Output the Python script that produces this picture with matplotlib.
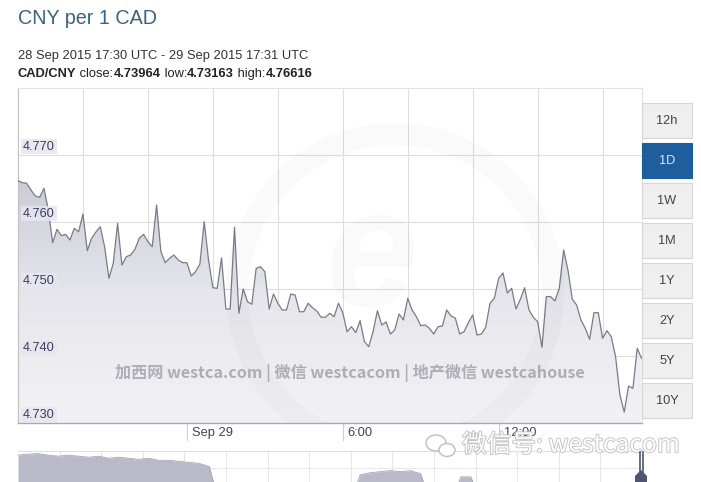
import numpy as np
import matplotlib
matplotlib.use("Agg")
import matplotlib.pyplot as plt
from matplotlib.patches import Rectangle, Circle, Ellipse, Polygon
from matplotlib.colors import LinearSegmentedColormap
from matplotlib import patheffects as pe

# ---------------- data ----------------
pair_label = "CAD/CNY"
title_text = "CNY per 1 CAD"
period_text = "28 Sep 2015 17:30 UTC - 29 Sep 2015 17:31 UTC"
close_val = "4.73964"
low_val = "4.73163"
high_val = "4.76616"

start_hour = -6.5          # 28 Sep 17:30 relative to 29 Sep 00:00
step_hours = 1.0 / 6.0     # 10-minute samples
rates = [4.76616, 4.76587, 4.76578, 4.76478, 4.76388, 4.76369, 4.76503, 4.76179, 4.75691, 4.75891,
         4.75796, 4.75816, 4.75731, 4.75906, 4.75855, 4.76119, 4.75572, 4.75757, 4.75851, 4.75930,
         4.75631, 4.75160, 4.75384, 4.75981, 4.75358, 4.75482, 4.75507, 4.75593, 4.75757, 4.75816,
         4.75706, 4.75631, 4.76254, 4.75557, 4.75393, 4.75458, 4.75507, 4.75433, 4.75393, 4.75393,
         4.75194, 4.75258, 4.75373, 4.76004, 4.75433, 4.75019, 4.75010, 4.75467, 4.74701, 4.74701,
         4.75921, 4.74637, 4.75000, 4.74810, 4.74772, 4.75309, 4.75333, 4.75258, 4.74701, 4.74925,
         4.74787, 4.74687, 4.74687, 4.74925, 4.74910, 4.74661, 4.74661, 4.74787, 4.74721, 4.74672,
         4.74578, 4.74578, 4.74637, 4.74587, 4.74787, 4.74646, 4.74363, 4.74437, 4.74348, 4.74527,
         4.74213, 4.74139, 4.74363, 4.74676, 4.74463, 4.74507, 4.74328, 4.74388, 4.74627, 4.74537,
         4.74861, 4.74687, 4.74587, 4.74452, 4.74463, 4.74413, 4.74328, 4.74437, 4.74448, 4.74687,
         4.74597, 4.74563, 4.74328, 4.74363, 4.74497, 4.74612, 4.74313, 4.74328, 4.74428, 4.74787,
         4.74861, 4.75160, 4.75239, 4.74940, 4.75010, 4.74701, 4.74846, 4.75019, 4.74687, 4.74578,
         4.74512, 4.74130, 4.74885, 4.74885, 4.74821, 4.75010, 4.75582, 4.75284, 4.74846, 4.74761,
         4.74537, 4.74413, 4.74249, 4.74646, 4.74646, 4.74264, 4.74378, 4.74288, 4.73990, 4.73418,
         4.73163, 4.73552, 4.73518, 4.74115, 4.73964]

x_tick_hours = [0, 6, 12]
x_tick_labels = ["Sep 29", "6:00", "12:00"]
y_ticks = [4.73, 4.74, 4.75, 4.76, 4.77]
y_tick_labels = ["4.730", "4.740", "4.750", "4.760", "4.770"]
grid_hours = [-4.0, -1.5, 1.0, 3.5, 6.0, 8.5, 11.0, 13.5, 16.0]

range_buttons = ["12h", "1D", "1W", "1M", "1Y", "2Y", "5Y", "10Y"]
active_button = "1D"

# navigator overview series (off-scale values drop below the strip)
nav_rates = [4.930, 4.935, 4.9375, 4.930, 4.925, 4.930, 4.925, 4.920, 4.925, 4.915,
             4.920, 4.915, 4.910, 4.915, 4.905, 4.905, 4.900, 4.895, 4.890, 4.875,
             4.700, 4.700, 4.700, 4.700, 4.700, 4.700, 4.700, 4.700, 4.700, 4.700,
             4.700, 4.700, 4.700, 4.700, 4.835, 4.845, 4.850, 4.855, 4.850, 4.855,
             4.840, 4.700, 4.700, 4.700, 4.825, 4.825, 4.700, 4.700, 4.700, 4.700,
             4.700, 4.700, 4.700, 4.700, 4.700, 4.700, 4.700, 4.700, 4.700, 4.700,
             4.700, 4.700, 4.700]

watermark_cn = "加西网 westca.com | 微信 westcacom | 地产微信 westcahouse"
watermark_wx = "微信号: westcacom"

# ---------------- layout helpers ----------------
W, H, DPI = 701, 482, 100
LATIN = ["Liberation Sans", "DejaVu Sans"]
CJK = ["Noto Sans CJK SC", "DejaVu Sans"]

def fx(px):
    return px / W

def fy(py):
    return 1 - py / H

fig = plt.figure(figsize=(W / DPI, H / DPI), dpi=DPI)
fig.patch.set_facecolor("white")

L, R, T, B = 18, 642, 88, 423
ax = fig.add_axes([fx(L), fy(B), (R - L) / W, (B - T) / H])
t = start_hour + np.arange(len(rates)) * step_hours
xmin, xmax = start_hour, start_hour + 24 + 1 / 60
ymin, ymax = 4.73, 4.78
ax.set_xlim(xmin, xmax)
ax.set_ylim(ymin, ymax)
ax.set_facecolor("white")

# grid
for g in grid_hours:
    ax.axvline(g, color="#dedede", lw=0.8, zorder=0.5)
for yv in y_ticks[1:]:
    ax.axhline(yv, color="#dedede", lw=0.8, zorder=0.5)
ax.set_xticks([])
ax.set_yticks([])

# gradient area
poly = ax.fill_between(t, rates, ymin, facecolor="none", edgecolor="none")
grad = np.linspace(0, 1, 256).reshape(-1, 1)
cmap = LinearSegmentedColormap.from_list("g", ["#f2f2f6", "#e6e6ec", "#c8c9d5"])
im = ax.imshow(grad, extent=[xmin, xmax, ymin, 4.768], origin="lower",
               aspect="auto", cmap=cmap, zorder=1, interpolation="bilinear")
im.set_clip_path(poly.get_paths()[0], transform=ax.transData)
ax.set_xlim(xmin, xmax)
ax.set_ylim(ymin, ymax)
ax.plot(t, rates, color="#7a7b88", lw=0.9, zorder=3)

for s in ["top", "right"]:
    ax.spines[s].set_color("#e2e2e2")
    ax.spines[s].set_linewidth(0.8)
ax.spines["left"].set_color("#c4c4c4")
ax.spines["left"].set_linewidth(0.9)
ax.spines["bottom"].set_color("#a9a9a9")
ax.spines["bottom"].set_linewidth(1.0)

# y labels inside
for yv, lab in zip(y_ticks, y_tick_labels):
    ax.annotate(lab, xy=(xmin, yv), xytext=(5, 2.5), textcoords="offset pixels",
                ha="left", va="bottom", fontsize=9.2, family=LATIN, color="#3c3c5c",
                zorder=6,
                bbox=dict(boxstyle="square,pad=0.15", fc="#e6e6f0", ec="none", alpha=0.85))

# x ticks below
for xh, lab in zip(x_tick_hours, x_tick_labels):
    ax.plot([xh, xh], [ymin, ymin - 0.0025], color="#d0d0d0", lw=0.8,
            clip_on=False, zorder=2)
    ax.annotate(lab, xy=(xh, ymin), xytext=(5, -10), textcoords="offset pixels",
                ha="left", va="center", fontsize=9.3, family=LATIN, color="#444444",
                annotation_clip=False)

# ---------------- overlay (pixel coords) ----------------
ov = fig.add_axes([0, 0, 1, 1], zorder=5)
ov.set_xlim(0, W)
ov.set_ylim(H, 0)
ov.axis("off")
ov.patch.set_visible(False)

clip_rect = Rectangle((L, T), R - L, B - T, transform=ov.transData)
rc = Circle((395, 292), 158, fill=False, lw=16, ec="#000000", alpha=0.018)
ov.add_patch(rc)
rc.set_clip_path(clip_rect)
te = ov.text(372, 262, "e", fontsize=120, fontweight="bold", style="italic",
             family=LATIN, color="#000000", alpha=0.02, ha="center", va="center")
te.set_clip_path(clip_rect)

# header texts
ov.text(L, 18, title_text, fontsize=14.2, family=LATIN, color="#3a6383",
        ha="left", va="center")
ov.text(L, 56, period_text, fontsize=9.3, family=LATIN, color="#333333",
        ha="left", va="center")

fig.canvas.draw()
rend = fig.canvas.get_renderer()
pieces = [(pair_label, "bold"), (" close:", "normal"), (close_val, "bold"),
          (" low:", "normal"), (low_val, "bold"), (" high:", "normal"), (high_val, "bold")]
cur = L
for txt, wgt in pieces:
    tt = ov.text(cur, 74, txt, fontsize=9.3, family=LATIN, fontweight=wgt,
                 color="#222222", ha="left", va="center")
    bb = tt.get_window_extent(rend)
    cur += bb.width

# Chinese watermark
wm = ov.text(350, 373, watermark_cn, family=CJK, fontweight="bold", fontsize=12,
             color="#a6a6b0", alpha=0.9, ha="center", va="center")
bb = wm.get_window_extent(rend)
wm.set_fontsize(12 * 471 / bb.width)

# wechat watermark
wx = ov.text(462, 445, watermark_wx, family=CJK, fontsize=14, color="white",
             ha="left", va="center", zorder=8,
             path_effects=[pe.withStroke(linewidth=1.3, foreground="#c2c2c2")])
bb = wx.get_window_extent(rend)
wx.set_fontsize(14 * 218 / bb.width)
ov.add_patch(Ellipse((436, 443), 20, 16, fc="white", ec="#c2c2c2", lw=1.1, zorder=8))
ov.add_patch(Ellipse((447, 450), 16, 13, fc="white", ec="#c2c2c2", lw=1.1, zorder=8))

# buttons
for i, lab in enumerate(range_buttons):
    y0 = 103 + 40 * i
    act = lab == active_button
    ov.add_patch(Rectangle((642, y0), 50, 35, fc="#1f5e9c" if act else "#efefef",
                           ec="#1f5e9c" if act else "#d6d6d6", lw=0.8))
    ov.text(667, y0 + 17.5, lab, fontsize=9.2, family=LATIN,
            color="#dbe6f2" if act else "#444444", ha="center", va="center")

# ---------------- navigator ----------------
nav = fig.add_axes([fx(L), fy(H), (R - L) / W, (H - 451) / H], zorder=2)
nx = np.arange(len(nav_rates))
nav.set_xlim(0, len(nav_rates) - 1)
nav.set_ylim(4.80, 4.95)
for k in np.linspace(0, len(nav_rates) - 1, 16)[1:-1]:
    nav.axvline(k, color="#e6e6e6", lw=0.7, zorder=0)
nav.axhline(4.868, color="#e6e6e6", lw=0.7, zorder=0)
nav.fill_between(nx, nav_rates, 4.60, color="#b8bbc7", lw=0, zorder=1)
nav.plot(nx, nav_rates, color="#a4a7b4", lw=0.6, zorder=2)
nav.set_xticks([])
nav.set_yticks([])
for s in nav.spines.values():
    s.set_visible(False)
nav.spines["top"].set_visible(True)
nav.spines["top"].set_color("#e0e0e0")

# navigator handle
ov.plot([639.5, 639.5], [452, 476], color="#4e5570", lw=1.2, zorder=9)
ov.plot([643, 643], [452, 476], color="#4e5570", lw=1.2, zorder=9)
ov.add_patch(Polygon([[641, 470], [647, 476], [647, 482], [635, 482], [635, 476]],
                     closed=True, fc="#4e5570", ec="none", zorder=9))

fig.savefig("out.png", dpi=DPI)
